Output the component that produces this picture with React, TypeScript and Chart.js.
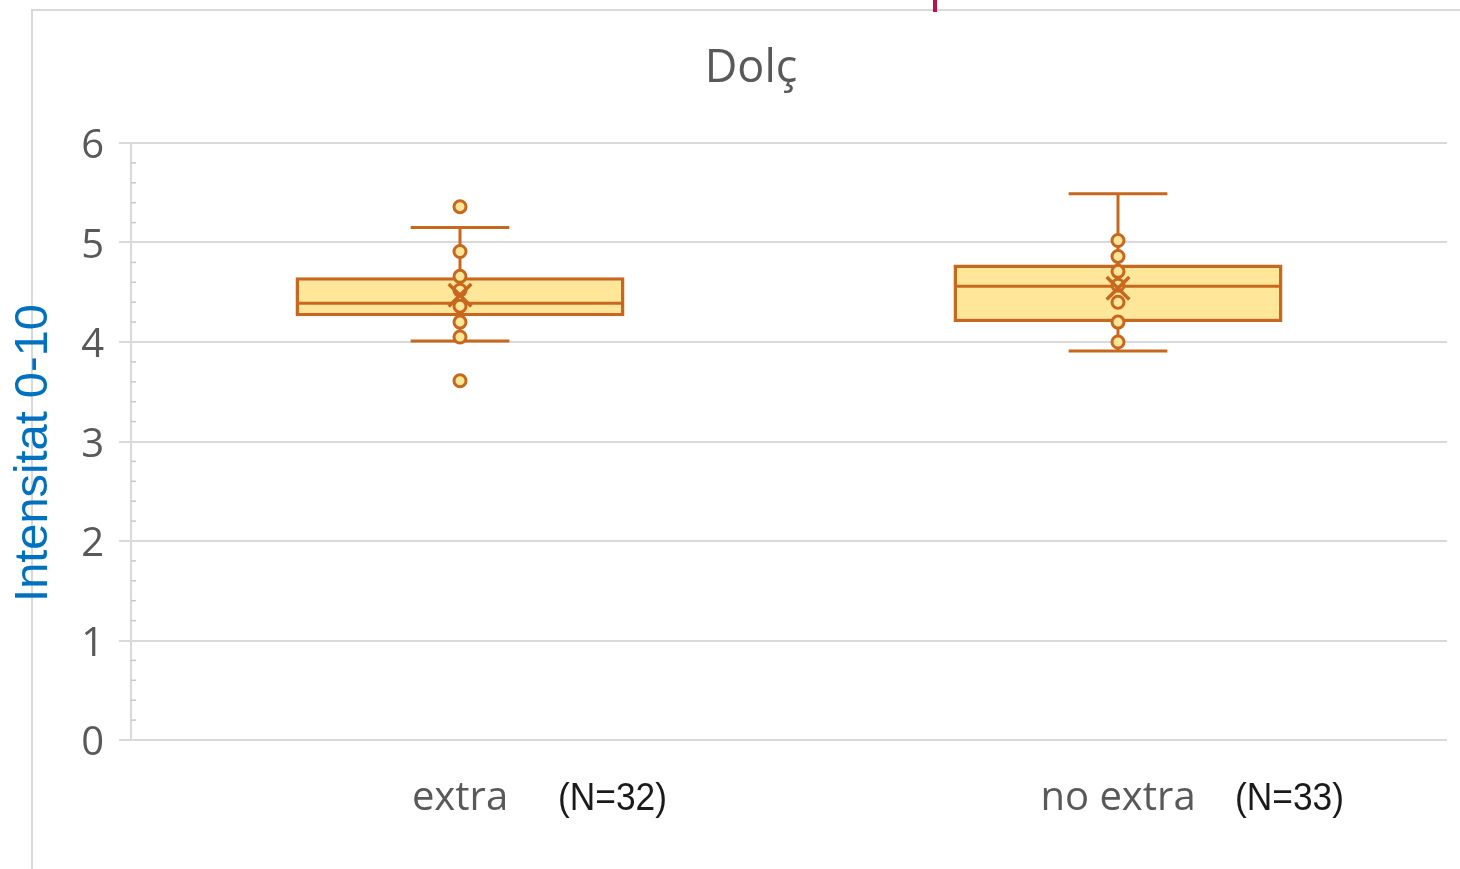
import React, { useEffect, useRef } from "react";
import { Chart, registerables } from "chart.js";

Chart.register(...registerables);

// ---- data ----
const categories = ["extra", "no extra"];
const sampleSizeLabels = ["(N=32)", "(N=33)"];
const q1Values = [4.26, 4.2];
const medianValues = [4.39, 4.56];
const q3Values = [4.65, 4.78];
const whiskerLowValues = [4.01, 3.91];
const whiskerHighValues = [5.15, 5.49];
const meanValues = [4.47, 4.54];
const extraPoints = [5.36, 4.91, 4.66, 4.52, 4.36, 4.2, 4.05, 3.61];
const noExtraPoints = [5.02, 4.86, 4.71, 4.57, 4.4, 4.2, 4.0];
const yTickLabels = ["0", "1", "2", "3", "4", "5", "6"];
const chartTitle = "Dolç";
const yAxisTitle = "Intensitat 0-10";

// ---- styles ----
const BOX_FILL = "#FFE699";
const BOX_LINE = "#C8681E";
const GRID = "#D9D9D9";
const TEXT = "#595959";
const nLabelOffsets = [98, 117];

const boxPlotPlugin = {
  id: "boxWhiskers",
  afterDatasetDraw(chart: any, args: any) {
    if (args.index !== 0) return;
    const { ctx } = chart;
    const xs = chart.scales.x;
    const ys = chart.scales.y;
    const meta = chart.getDatasetMeta(0);
    const catWidth = xs.width / categories.length;
    const capHalf = (catWidth * 0.15) / 2;
    ctx.save();
    ctx.strokeStyle = BOX_LINE;
    ctx.lineCap = "butt";
    categories.forEach((_, i) => {
      const cx = xs.getPixelForValue(i);
      const bw = meta.data[i].width;
      ctx.lineWidth = 3;
      const ym = ys.getPixelForValue(medianValues[i]);
      ctx.beginPath();
      ctx.moveTo(cx - bw / 2 + 2, ym);
      ctx.lineTo(cx + bw / 2 - 2, ym);
      ctx.stroke();
      const yHi = ys.getPixelForValue(whiskerHighValues[i]);
      const yQ3 = ys.getPixelForValue(q3Values[i]);
      const yLo = ys.getPixelForValue(whiskerLowValues[i]);
      const yQ1 = ys.getPixelForValue(q1Values[i]);
      ctx.beginPath();
      ctx.moveTo(cx, yHi);
      ctx.lineTo(cx, yQ3);
      ctx.moveTo(cx, yQ1);
      ctx.lineTo(cx, yLo);
      ctx.moveTo(cx - capHalf, yHi);
      ctx.lineTo(cx + capHalf, yHi);
      ctx.moveTo(cx - capHalf, yLo);
      ctx.lineTo(cx + capHalf, yLo);
      ctx.stroke();
    });
    ctx.restore();
  },
};

const decorPlugin = {
  id: "decor",
  beforeDatasetsDraw(chart: any) {
    const { ctx, chartArea } = chart;
    const ys = chart.scales.y;
    ctx.save();
    ctx.strokeStyle = "#C8C8C8";
    ctx.lineWidth = 1.5;
    for (let k = 1; k < 30; k++) {
      if (k % 5 === 0) continue;
      const y = ys.getPixelForValue(k / 5);
      ctx.beginPath();
      ctx.moveTo(chartArea.left, y);
      ctx.lineTo(chartArea.left + 5, y);
      ctx.stroke();
    }
    ctx.restore();
  },
  afterDraw(chart: any) {
    const { ctx } = chart;
    const xs = chart.scales.x;
    ctx.save();
    ctx.fillStyle = TEXT;
    ctx.font = '45px "Open Sans"';
    ctx.textAlign = "center";
    ctx.textBaseline = "alphabetic";
    ctx.fillText(chartTitle, 751, 82);
    ctx.save();
    ctx.translate(47, 453);
    ctx.rotate(-Math.PI / 2);
    ctx.fillStyle = "#0070C0";
    ctx.font = '47px "Liberation Sans"';
    ctx.textAlign = "center";
    ctx.fillText(yAxisTitle, 0, 0);
    ctx.restore();
    ctx.fillStyle = "#1A1A1A";
    ctx.font = '38px "Liberation Sans"';
    ctx.textAlign = "left";
    sampleSizeLabels.forEach((lab, i) => {
      const cx = xs.getPixelForValue(i);
      ctx.save();
      ctx.translate(cx + nLabelOffsets[i], 810);
      ctx.scale(0.93, 1);
      ctx.fillText(lab, 0, 0);
      ctx.restore();
    });
    ctx.restore();
  },
};

export default function App() {
  const ref = useRef<HTMLCanvasElement | null>(null);

  useEffect(() => {
    if (!ref.current) return;
    const pointData = [
      ...extraPoints.map((y) => ({ x: categories[0], y })),
      ...noExtraPoints.map((y) => ({ x: categories[1], y })),
    ];
    const meanData = meanValues.map((y, i) => ({ x: categories[i], y }));
    const chart = new Chart(ref.current, {
      type: "bar",
      data: {
        labels: categories,
        datasets: [
          {
            type: "bar",
            data: categories.map((_, i) => [q1Values[i], q3Values[i]]) as any,
            backgroundColor: BOX_FILL,
            borderColor: BOX_LINE,
            borderWidth: 3.5,
            borderSkipped: false,
            categoryPercentage: 1,
            barPercentage: 0.5,
            order: 3,
          } as any,
          {
            type: "line",
            data: pointData as any,
            showLine: false,
            pointStyle: "circle",
            pointRadius: 6,
            pointBackgroundColor: BOX_FILL,
            pointBorderColor: BOX_LINE,
            pointBorderWidth: 3,
            order: 2,
          } as any,
          {
            type: "line",
            data: meanData as any,
            showLine: false,
            pointStyle: "crossRot",
            pointRadius: 16,
            pointBorderColor: BOX_LINE,
            pointBorderWidth: 3.5,
            order: 1,
          } as any,
        ],
      },
      options: {
        responsive: false,
        devicePixelRatio: 1,
        animation: false,
        layout: { autoPadding: false, padding: { left: 6, right: 13, top: 143, bottom: 0 } },
        plugins: {
          legend: { display: false },
          tooltip: { enabled: false },
          title: { display: false },
        },
        scales: {
          x: {
            type: "category",
            offset: true,
            grid: { display: false },
            border: { display: false },
            ticks: {
              color: TEXT,
              font: { family: "Open Sans", size: 40 },
              padding: 27,
              maxRotation: 0,
            },
            afterFit: (s: any) => {
              s.height = 129;
              s.paddingLeft = 0;
              s.paddingRight = 0;
            },
          },
          y: {
            min: 0,
            max: 6,
            grid: { color: GRID, lineWidth: 2, tickLength: 12, tickColor: GRID },
            border: { display: true, color: GRID, width: 2 },
            ticks: {
              stepSize: 1,
              color: TEXT,
              font: { family: "Open Sans", size: 40 },
              padding: 15,
              labelOffset: 4,
              callback: (v: any) => yTickLabels[Number(v)] ?? "",
            },
            afterFit: (s: any) => {
              s.width = 125;
            },
          },
        },
      },
      plugins: [boxPlotPlugin, decorPlugin],
    });
    return () => chart.destroy();
  }, []);

  return (
    <div style={{ position: "absolute", left: 0, top: 0, width: 1460, height: 869, background: "#fff", overflow: "hidden" }}>
      <div
        style={{
          position: "absolute",
          left: 31,
          top: 9,
          right: 0,
          bottom: 0,
          borderLeft: "2px solid #D9D9D9",
          borderTop: "2px solid #D9D9D9",
        }}
      />
      <div style={{ position: "absolute", left: 933, top: 0, width: 4, height: 12, background: "#C0104A" }} />
      <canvas ref={ref} width={1460} height={869} style={{ position: "absolute", left: 0, top: 0 }} />
    </div>
  );
}
